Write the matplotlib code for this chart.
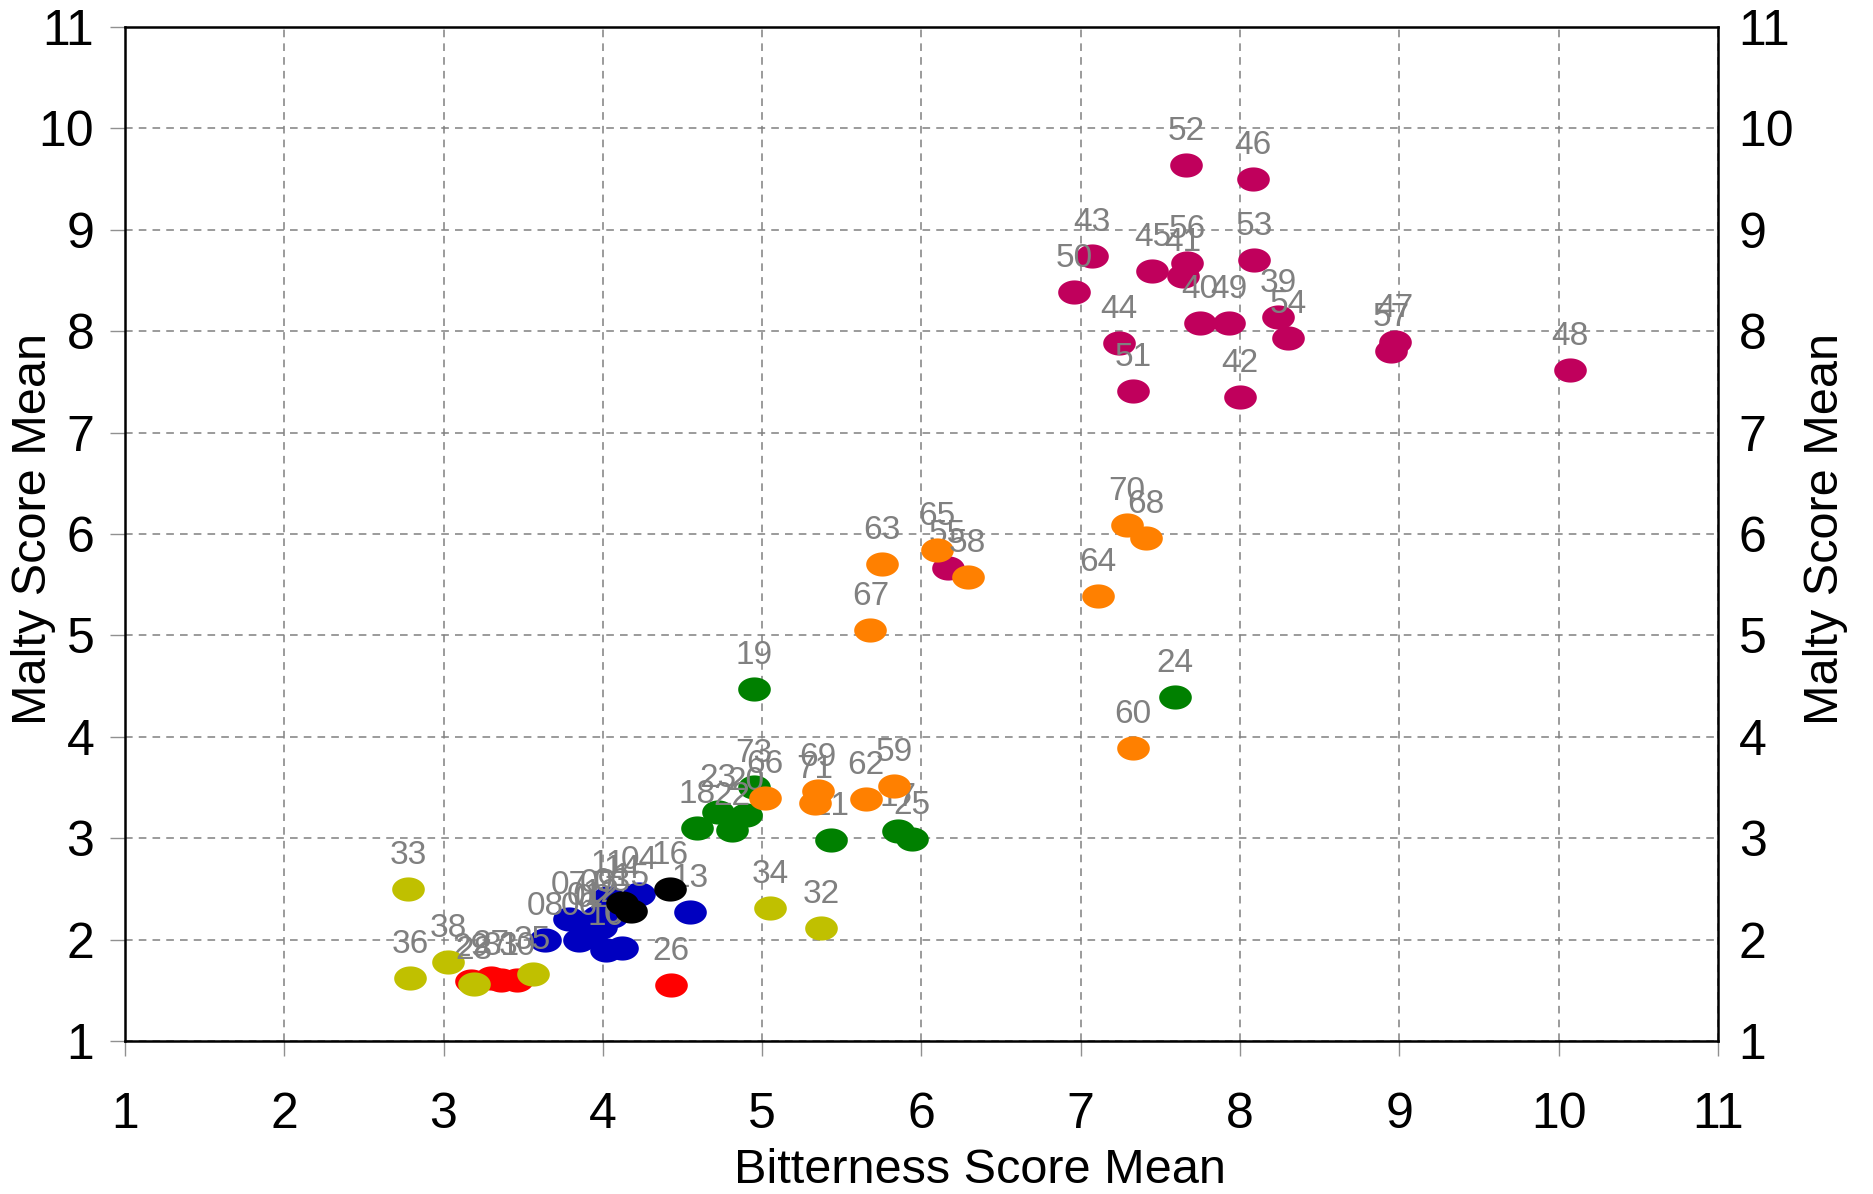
import numpy as np
import matplotlib
matplotlib.use("Agg")
import matplotlib.pyplot as plt
from matplotlib.path import Path

plt.rcParams['font.family'] = ['Liberation Sans', 'DejaVu Sans']

# beer groups: labels, bitterness (x), malty (y)
magenta_lbl = ['52', '46', '43', '50', '45', '56', '41', '53', '40', '49',
               '39', '54', '44', '51', '42', '47', '57', '48', '55']
magenta_x = [7.66, 8.08, 7.07, 6.96, 7.45, 7.67, 7.64, 8.09, 7.75, 7.93,
             8.24, 8.30, 7.24, 7.33, 8.00, 8.97, 8.95, 10.07, 6.165]
magenta_y = [9.64, 9.50, 8.74, 8.39, 8.59, 8.67, 8.54, 8.70, 8.08, 8.08,
             8.14, 7.93, 7.88, 7.41, 7.35, 7.89, 7.80, 7.62, 5.66]

green_lbl = ['19', '24', '73', '23', '20', '18', '22', '21', '17', '25']
green_x = [4.95, 7.59, 4.95, 4.72, 4.90, 4.59, 4.81, 5.43, 5.85, 5.94]
green_y = [4.47, 4.39, 3.51, 3.26, 3.23, 3.10, 3.08, 2.98, 3.07, 2.99]

blue_lbl = ['08', '07', '01', '06', '02', '12', '09', '03', '11', '04',
            '10', '05', '13']
blue_x = [3.64, 3.79, 3.89, 3.85, 3.94, 3.99, 3.97, 4.06, 4.03, 4.23,
          4.02, 4.12, 4.55]
blue_y = [1.995, 2.20, 2.10, 2.00, 2.08, 2.12, 2.22, 2.23, 2.41, 2.45,
          1.90, 1.92, 2.27]

black_lbl = ['14', '15', '16']
black_x = [4.12, 4.18, 4.42]
black_y = [2.36, 2.28, 2.50]

red_lbl = ['29', '27', '31', '30', '26']
red_x = [3.17, 3.30, 3.36, 3.46, 4.43]
red_y = [1.59, 1.62, 1.60, 1.60, 1.55]

yellow_lbl = ['33', '36', '38', '28', '35', '34', '32']
yellow_x = [2.78, 2.79, 3.03, 3.19, 3.56, 5.05, 5.37]
yellow_y = [2.50, 1.62, 1.78, 1.56, 1.66, 2.31, 2.11]

orange_lbl = ['63', '67', '65', '58', '64', '70', '68', '60', '66', '69',
              '71', '62', '59']
orange_x = [5.75, 5.68, 6.10, 6.29, 7.11, 7.29, 7.41, 7.33, 5.02, 5.35,
            5.33, 5.65, 5.83]
orange_y = [5.70, 5.05, 5.84, 5.58, 5.39, 6.09, 5.96, 3.89, 3.40, 3.47,
            3.35, 3.39, 3.52]

groups = [
    (magenta_lbl, magenta_x, magenta_y, '#C0005C'),
    (green_lbl, green_x, green_y, '#008000'),
    (blue_lbl, blue_x, blue_y, '#0000C0'),
    (black_lbl, black_x, black_y, '#000000'),
    (red_lbl, red_x, red_y, '#FF0000'),
    (yellow_lbl, yellow_x, yellow_y, '#C0C000'),
    (orange_lbl, orange_x, orange_y, '#FF8000'),
]

ticks = list(range(1, 12))

# flat ellipse marker
t = np.linspace(0, 2 * np.pi, 60)
ellipse = Path(np.column_stack([1.35 * np.cos(t), np.sin(t)]), closed=True)

fig = plt.figure(figsize=(18.73, 11.94), dpi=100)
ax = fig.add_axes([0.0667, 0.1281, 0.8505, 0.8493])

z = 3
for lbl, xs, ys, col in groups:
    ax.plot(xs, ys, linestyle='none', marker=ellipse, markersize=23.5,
            color=col, markeredgewidth=0, zorder=z)
    for s, x, y in zip(lbl, xs, ys):
        ax.annotate(s, (x, y), xytext=(0, 18), textcoords='offset points',
                    ha='center', va='baseline', fontsize=24, color='#808080',
                    zorder=z + 1)
    z += 2

ax.set_xlim(1, 11)
ax.set_ylim(1, 11)
ax.set_xticks(ticks)
ax.set_yticks(ticks)
ax.grid(True, color='#808080', linestyle=(0, (5, 4)), linewidth=1.1, zorder=0)
ax.set_axisbelow(True)
for sp in ax.spines.values():
    sp.set_linewidth(1.8)
    sp.set_color('black')

ax.tick_params(axis='x', length=11, width=1, color='#909090', pad=26,
               labelsize=36)
ax.tick_params(axis='y', length=11, width=1, color='#909090', pad=11,
               labelsize=36)
ax.set_xlabel('Bitterness Score Mean', fontsize=35)
ax.set_ylabel('Malty Score Mean', fontsize=35)
ax.xaxis.set_label_coords(0.5365, -0.128)
ax.xaxis.label.set_va('center')
ax.yaxis.set_label_coords(-0.0574, 0.505)
ax.yaxis.label.set_va('center')

ax2 = ax.twinx()
ax2.set_ylim(1, 11)
ax2.set_yticks(ticks)
ax2.tick_params(axis='y', length=0, pad=15, labelsize=36)
ax2.set_ylabel('Malty Score Mean', fontsize=35, rotation=90)
ax2.yaxis.set_label_coords(1.0675, 0.505)
ax2.yaxis.label.set_va('center')
for sp in ax2.spines.values():
    sp.set_visible(False)

fig.savefig('out.png', dpi=100)
